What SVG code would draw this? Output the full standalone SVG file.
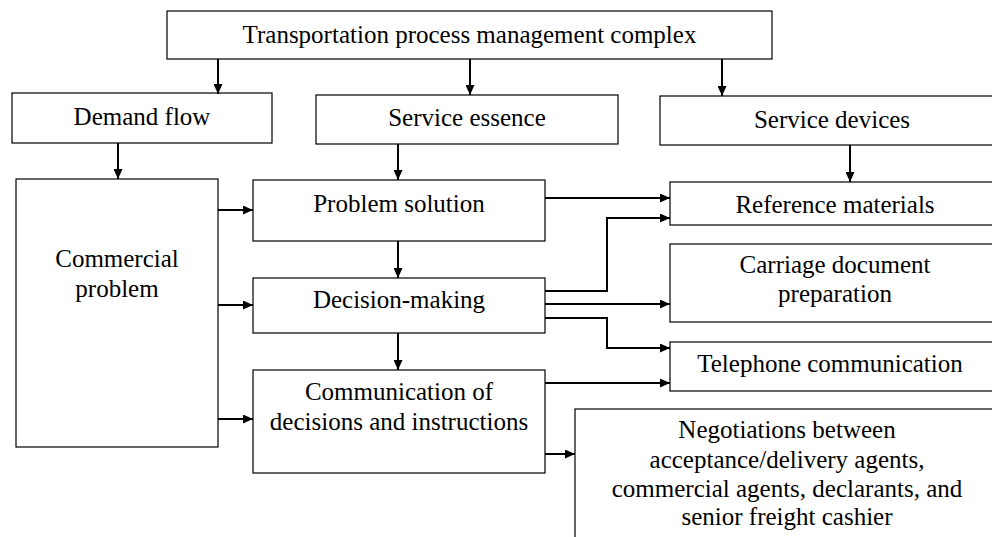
<svg xmlns="http://www.w3.org/2000/svg" width="992" height="537" viewBox="0 0 992 537">
<style>
.box{fill:#fff;stroke:#000;stroke-width:1.2}
.t{font-family:"Liberation Serif","Times New Roman",serif;font-size:25px;fill:#000;text-anchor:middle}
.c{fill:none;stroke:#000;stroke-width:2}
</style>
<defs>
<marker id="a" markerWidth="10" markerHeight="9" refX="10" refY="4.5" orient="auto" markerUnits="userSpaceOnUse">
<path d="M0,0 L10,4.5 L0,9 Z" fill="#000"/>
</marker>
</defs>
<rect width="992" height="537" fill="#fff"/>
<g id="top"><rect class="box" x="167" y="11" width="605" height="48"/><text class="t" x="469.5" y="43">Transportation process management complex</text></g>
<g id="demand"><rect class="box" x="12" y="93" width="260" height="50"/><text class="t" x="142" y="125">Demand flow</text></g>
<g id="essence"><rect class="box" x="316" y="95" width="302" height="49"/><text class="t" x="467" y="126">Service essence</text></g>
<g id="devices"><rect class="box" x="660" y="96" width="344" height="49"/><text class="t" x="832" y="128">Service devices</text></g>
<g id="commercial"><rect class="box" x="16" y="179" width="202" height="268"/><text class="t" x="117" y="267">Commercial</text><text class="t" x="117" y="297">problem</text></g>
<g id="solution"><rect class="box" x="253" y="180" width="292" height="61"/><text class="t" x="399" y="212">Problem solution</text></g>
<g id="decision"><rect class="box" x="253" y="278" width="292" height="55"/><text class="t" x="399" y="308">Decision-making</text></g>
<g id="communication"><rect class="box" x="253" y="370" width="292" height="103"/><text class="t" x="399" y="400">Communication of</text><text class="t" x="399" y="430">decisions and instructions</text></g>
<g id="reference"><rect class="box" x="670" y="182" width="334" height="43"/><text class="t" x="835" y="213">Reference materials</text></g>
<g id="carriage"><rect class="box" x="670" y="244" width="334" height="78"/><text class="t" x="835" y="273">Carriage document</text><text class="t" x="835" y="302">preparation</text></g>
<g id="telephone"><rect class="box" x="670" y="342" width="334" height="49"/><text class="t" x="830" y="372">Telephone communication</text></g>
<g id="negotiations"><rect class="box" x="575" y="409" width="430" height="150"/><text class="t" x="787" y="438">Negotiations between</text><text class="t" x="787" y="468">acceptance/delivery agents,</text><text class="t" x="787" y="497">commercial agents, declarants, and</text><text class="t" x="787" y="525">senior freight cashier</text></g>
<g id="connectors">
<path class="c" d="M218,59 V94" marker-end="url(#a)"/>
<path class="c" d="M470,59 V95" marker-end="url(#a)"/>
<path class="c" d="M722,59 V96" marker-end="url(#a)"/>
<path class="c" d="M118,143 V179" marker-end="url(#a)"/>
<path class="c" d="M398,144 V180" marker-end="url(#a)"/>
<path class="c" d="M850,145 V182" marker-end="url(#a)"/>
<path class="c" d="M218,210 H253" marker-end="url(#a)"/>
<path class="c" d="M218,305 H253" marker-end="url(#a)"/>
<path class="c" d="M218,419 H253" marker-end="url(#a)"/>
<path class="c" d="M398,241 V278" marker-end="url(#a)"/>
<path class="c" d="M398,333 V370" marker-end="url(#a)"/>
<path class="c" d="M545,198 H670" marker-end="url(#a)"/>
<path class="c" d="M545,291 H607 V218 H670" marker-end="url(#a)"/>
<path class="c" d="M545,304 H670" marker-end="url(#a)"/>
<path class="c" d="M545,318 H607 V348 H670" marker-end="url(#a)"/>
<path class="c" d="M545,383 H670" marker-end="url(#a)"/>
<path class="c" d="M545,454 H575" marker-end="url(#a)"/>
</g>
</svg>
